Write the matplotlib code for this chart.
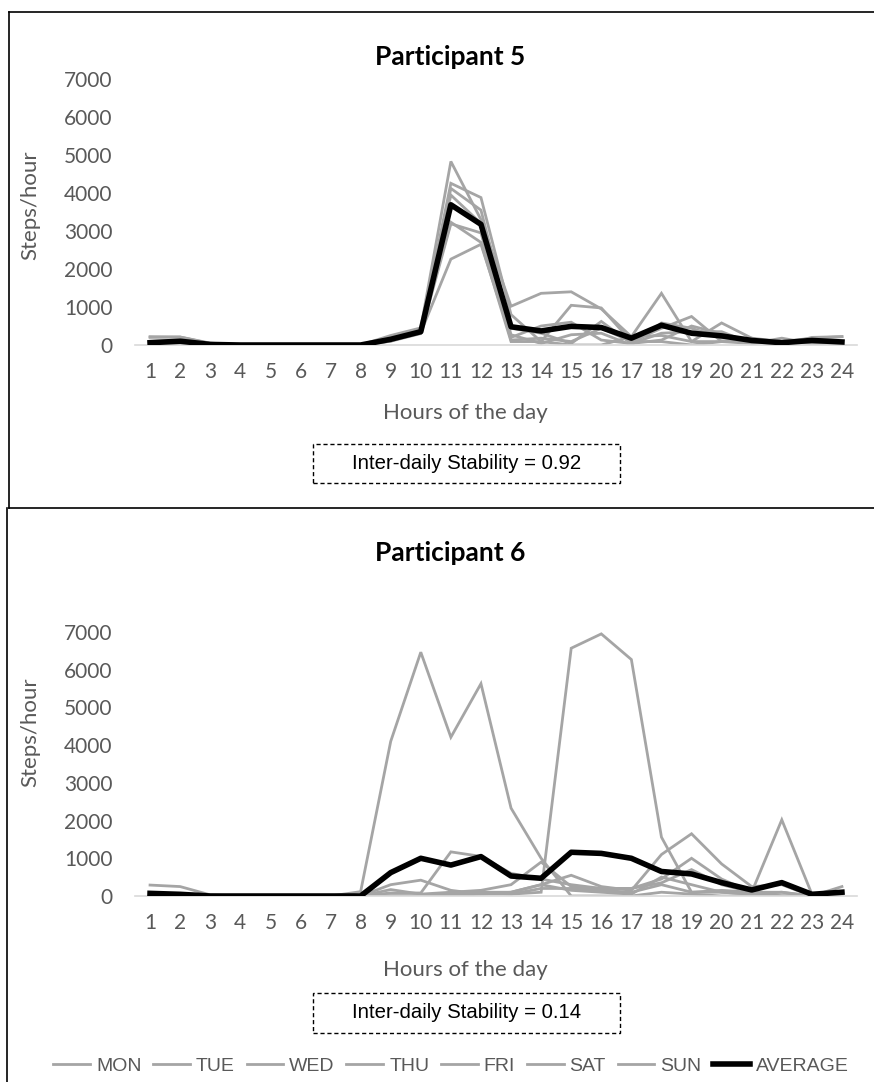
import matplotlib
matplotlib.use("Agg")
import matplotlib.pyplot as plt
from matplotlib import font_manager
from matplotlib.lines import Line2D
from matplotlib.patches import Rectangle

# ---------------- data ----------------
hours = list(range(1, 25))
hour_labels = [str(h) for h in hours]
days = ["MON", "TUE", "WED", "THU", "FRI", "SAT", "SUN"]

# Participant 5
p5_mon = [220, 210, 50, 0, 0, 0, 0, 0, 250, 450, 4830, 3300, 1020, 1360, 1400, 950, 220, 1360, 90, 580, 180, 90, 180, 220]
p5_tue = [50, 60, 0, 0, 0, 0, 0, 0, 100, 380, 4255, 3880, 800, 90, 1045, 975, 90, 440, 750, 90, 90, 40, 90, 40]
p5_wed = [100, 120, 20, 0, 0, 0, 0, 0, 150, 350, 4120, 3550, 440, 310, 40, 620, 40, 310, 350, 350, 40, 180, 40, 90]
p5_thu = [30, 50, 0, 0, 0, 0, 0, 0, 120, 400, 3945, 3200, 270, 40, 270, 310, 0, 580, 440, 180, 180, 0, 180, 40]
p5_fri = [0, 20, 0, 0, 0, 0, 0, 0, 100, 300, 3190, 2950, 130, 180, 90, 440, 90, 90, 0, 90, 90, 90, 90, 40]
p5_sat = [200, 210, 40, 0, 0, 0, 0, 0, 200, 420, 3230, 2700, 90, 90, 0, 0, 220, 250, 90, 90, 40, 90, 40, 0]
p5_sun = [0, 0, 0, 0, 0, 0, 0, 0, 130, 330, 2260, 2650, 200, 500, 600, 130, 40, 130, 500, 300, 90, 0, 200, 220]
p5_avg = [60, 100, 15, 0, 0, 0, 0, 0, 150, 350, 3690, 3175, 480, 370, 490, 460, 180, 520, 310, 240, 120, 60, 120, 80]

# Participant 6
p6_mon = [290, 250, 30, 0, 0, 0, 0, 115, 4100, 6465, 4210, 5630, 2330, 1000, 0, 0, 0, 100, 50, 0, 0, 0, 0, 50]
p6_tue = [0, 0, 0, 0, 0, 0, 0, 0, 0, 0, 0, 50, 50, 100, 6570, 6950, 6270, 1560, 100, 150, 100, 0, 0, 0]
p6_wed = [80, 60, 0, 0, 0, 0, 0, 0, 300, 420, 150, 50, 100, 300, 550, 250, 150, 1100, 1650, 850, 250, 300, 0, 250]
p6_thu = [0, 0, 0, 0, 0, 0, 0, 0, 80, 80, 1170, 1050, 600, 450, 300, 200, 200, 450, 1000, 450, 100, 2020, 50, 100]
p6_fri = [50, 30, 0, 0, 0, 0, 0, 0, 170, 50, 100, 150, 300, 900, 250, 200, 200, 350, 700, 300, 100, 100, 0, 50]
p6_sat = [0, 0, 0, 0, 0, 0, 0, 0, 0, 0, 0, 100, 100, 300, 150, 100, 50, 500, 300, 100, 50, 100, 0, 0]
p6_sun = [0, 0, 0, 0, 0, 0, 0, 0, 0, 0, 50, 100, 50, 200, 200, 150, 100, 300, 100, 100, 50, 0, 0, 100]
p6_avg = [70, 45, 0, 0, 0, 0, 0, 0, 620, 1000, 820, 1045, 530, 470, 1160, 1130, 1000, 650, 585, 355, 160, 355, 45, 100]

yticks = [0, 1000, 2000, 3000, 4000, 5000, 6000, 7000]
titles = ["Participant 5", "Participant 6"]
is_labels = ["Inter-daily Stability = 0.92", "Inter-daily Stability = 0.14"]

# ---------------- fonts ----------------
available = {f.name for f in font_manager.fontManager.ttflist}
narrow = "Liberation Sans Narrow" if "Liberation Sans Narrow" in available else "Liberation Sans"
body = "Lato" if "Lato" in available else "DejaVu Sans"
leg_size = 17 if narrow == "Liberation Sans Narrow" else 14
box_size = 15 if narrow == "Liberation Sans Narrow" else 14.7

W, H = 874, 1082
fig = plt.figure(figsize=(W / 100, H / 100), dpi=100)

def fx(x):
    return x / W

def fy(y):
    return 1 - y / H

GREY = "#A5A5A5"
TXT = "#595959"

panels = [
    dict(series=[p5_mon, p5_tue, p5_wed, p5_thu, p5_fri, p5_sat, p5_sun], avg=p5_avg,
         top=79, bottom=345, title_y=57, ylab_y=205, xlab_y=413, box=(313, 444, 620, 483)),
    dict(series=[p6_mon, p6_tue, p6_wed, p6_thu, p6_fri, p6_sat, p6_sun], avg=p6_avg,
         top=632, bottom=896, title_y=553, ylab_y=732, xlab_y=970, box=(313, 993, 620, 1033)),
]

handles = []
for i, p in enumerate(panels):
    left, right = 135, 857
    ax = fig.add_axes([fx(left), fy(p["bottom"]), (right - left) / W, (p["bottom"] - p["top"]) / H])
    for d, s in zip(days, p["series"]):
        ln, = ax.plot(hours, s, color=GREY, lw=2.0, solid_joinstyle="miter", label=d)
        if i == 0:
            handles.append(ln)
    la, = ax.plot(hours, p["avg"], color="black", lw=4.0, label="AVERAGE", zorder=5)
    if i == 0:
        handles.append(la)
    ax.set_xlim(0.5, 24.5)
    ax.set_ylim(0, 7000)
    ax.set_xticks(hours)
    ax.set_xticklabels(hour_labels, fontfamily=body, fontsize=15, color=TXT)
    ax.set_yticks(yticks)
    ax.set_yticklabels([str(v) for v in yticks], fontfamily=body, fontsize=15, color=TXT)
    ax.tick_params(axis="both", length=0)
    ax.tick_params(axis="y", pad=16)
    ax.tick_params(axis="x", pad=12)
    for sp in ["top", "right", "left"]:
        ax.spines[sp].set_visible(False)
    ax.spines["bottom"].set_color("#D9D9D9")
    ax.spines["bottom"].set_linewidth(1.2)
    ax.set_facecolor("none")

    fig.text(fx(450), fy(p["title_y"]), titles[i], ha="center", va="center",
             fontfamily=body, fontweight="bold", fontsize=19, color="black")
    fig.text(fx(30), fy(p["ylab_y"]), "Steps/hour", rotation=90, ha="center", va="center",
             fontfamily=body, fontsize=16, color=TXT)
    fig.text(fx(465), fy(p["xlab_y"]), "Hours of the day", ha="center", va="center",
             fontfamily=body, fontsize=16, color=TXT)
    x0, y0, x1, y1 = p["box"]
    fig.patches.append(Rectangle((fx(x0), fy(y1)), (x1 - x0) / W, (y1 - y0) / H,
                                 transform=fig.transFigure, fill=False, edgecolor="black",
                                 lw=1.0, linestyle=(0, (3, 2))))
    fig.text(fx((x0 + x1) / 2), fy((y0 + y1) / 2), is_labels[i], ha="center", va="center",
             fontfamily=narrow, fontsize=box_size, color="black")

# panel borders
border = dict(color="black", lw=1.2, transform=fig.transFigure)
fig.lines.append(Line2D([fx(9), fx(9)], [fy(12), fy(508)], **border))
fig.lines.append(Line2D([fx(9), 1], [fy(12), fy(12)], **border))
fig.lines.append(Line2D([fx(9), 1], [fy(508), fy(508)], **border))
fig.lines.append(Line2D([fx(7), fx(7)], [fy(508), 0], **border))

leg = fig.legend(handles, days + ["AVERAGE"], loc="center", bbox_to_anchor=(fx(451), fy(1066)),
                 ncol=8, frameon=False, prop={"family": narrow, "size": leg_size},
                 handlelength=1.9, handletextpad=0.3, columnspacing=0.6, labelcolor=TXT,
                 borderpad=0, borderaxespad=0)

fig.savefig("out.png", dpi=100)
